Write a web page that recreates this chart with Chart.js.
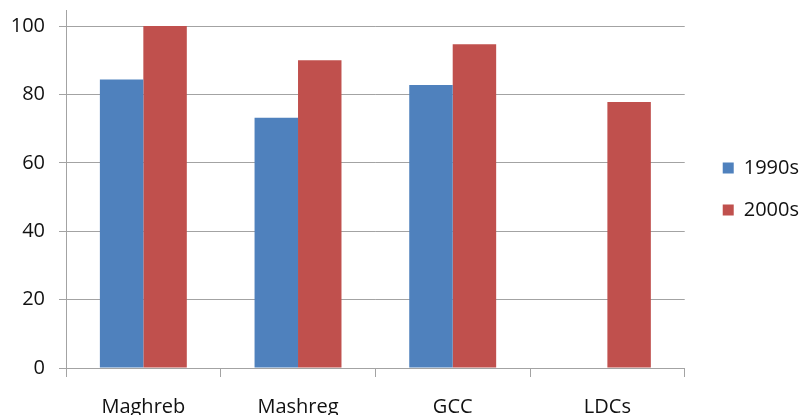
<!DOCTYPE html>
<html>
<head>
<meta charset="utf-8">
<script src="https://cdn.jsdelivr.net/npm/chart.js@4"></script>
<style>
  html, body { margin: 0; padding: 0; background: #fff; overflow: hidden; }
  #wrap { position: relative; width: 799px; height: 437px; }
</style>
</head>
<body>
<div id="wrap"><canvas id="mainPlot"></canvas></div>
<script>
// chart data
const categories = ["Maghreb", "Mashreg", "GCC", "LDCs"];
const values1990s = [84.4, 73.2, 82.8, null];
const values2000s = [100, 90.0, 94.7, 77.8];
const seriesLabels = ["1990s", "2000s"];

const gridColor = "#a3a3a3";
const textColor = "#111";
const font = { family: "'Open Sans', sans-serif", size: 20 };

var mainChart = new Chart(document.getElementById("mainPlot"), {
  type: "bar",
  data: {
    labels: categories,
    datasets: [
      {
        label: seriesLabels[0],
        data: values1990s,
        backgroundColor: "#4F81BD",
      },
      {
        label: seriesLabels[1],
        data: values2000s,
        backgroundColor: "#C0504D",
      },
    ],
  },
  options: {
    responsive: true,
    maintainAspectRatio: false,
    animation: false,
    categoryPercentage: 0.562,
    barPercentage: 1,
    layout: {
      padding: { left: 10, top: 0, right: -10, bottom: 0 },
    },
    scales: {
      x: {
        grid: {
          display: true,
          drawOnChartArea: false,
          color: gridColor,
          tickLength: 9,
        },
        border: { color: gridColor },
        ticks: {
          color: textColor,
          font: font,
          padding: 18,
        },
      },
      y: {
        min: 0,
        max: 104.7,
        border: { color: gridColor },
        grid: {
          color: gridColor,
          tickLength: 7,
        },
        ticks: {
          stepSize: 20,
          includeBounds: false,
          color: textColor,
          font: font,
          padding: 14,
        },
        // axis line starts above the 100 gridline
        afterFit: function (scale) {
          scale.width = 56;
          scale.paddingTop = 10;
        },
      },
      // spacer between plot and legend
      gap: {
        type: "linear",
        position: "right",
        grid: { display: false },
        border: { display: false },
        ticks: { display: false },
        afterFit: function (scale) {
          scale.width = 16;
        },
      },
    },
    plugins: {
      legend: {
        position: "right",
        fullSize: false,
        labels: {
          boxWidth: 11,
          boxHeight: 11,
          padding: 22,
          color: textColor,
          font: font,
        },
      },
      tooltip: { enabled: false },
    },
  },
});
</script>
</body>
</html>
